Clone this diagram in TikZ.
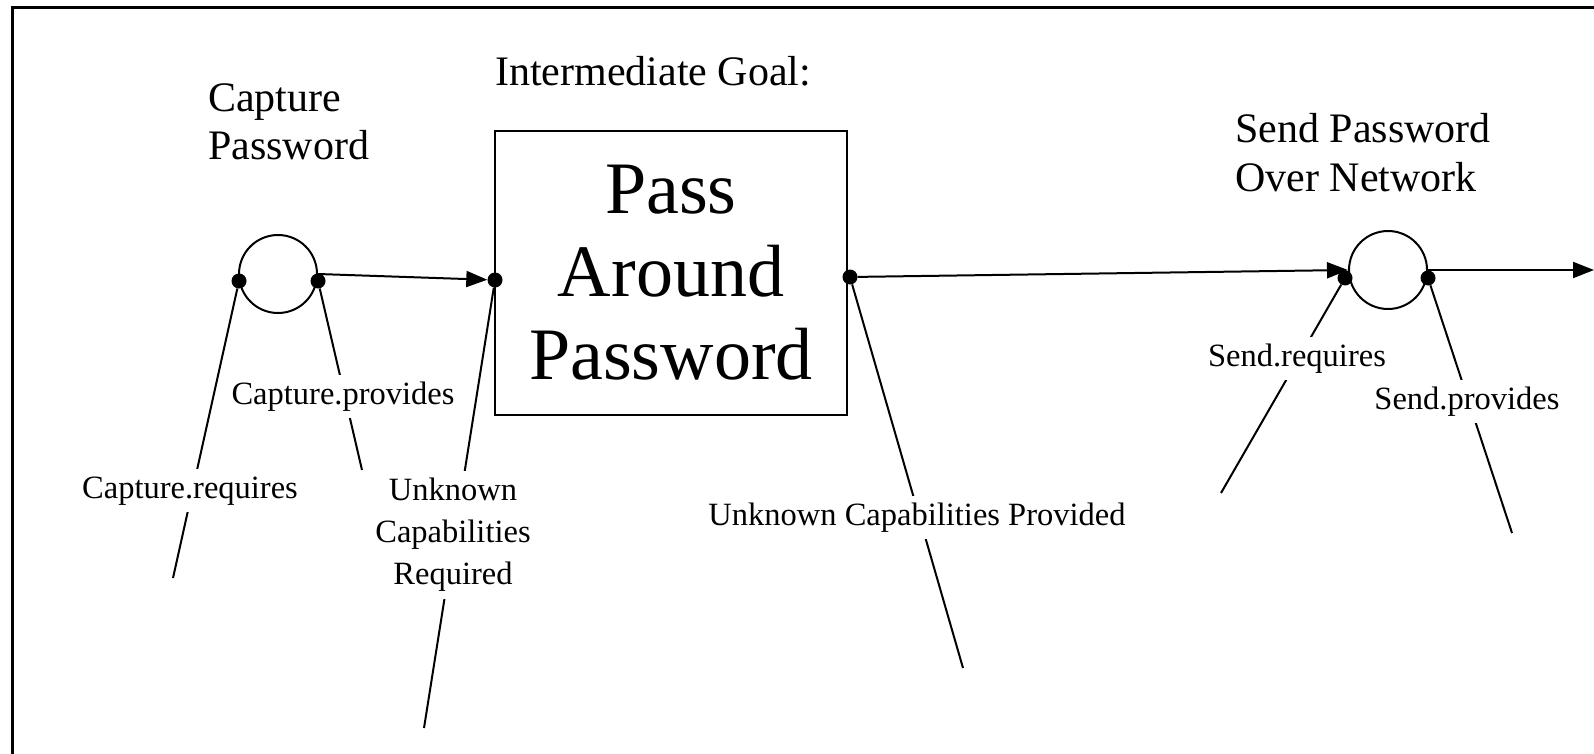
\documentclass[tikz,border=0pt]{standalone}
\usepackage{fontspec}
\setmainfont{Liberation Serif}
\usetikzlibrary{arrows.meta}
\begin{document}
\begin{tikzpicture}[x=1pt,y=-1pt,
  conn/.style={line width=2pt},
  arr/.style={line width=2pt,-{Triangle[length=21pt,width=16pt]}},
  dotmark/.style={circle,fill,inner sep=0pt,minimum size=15pt},
  ring/.style={circle,draw,line width=2pt,minimum size=78pt,inner sep=0pt},
  lab/.style={fill=white,inner xsep=3pt,inner ysep=5.5pt,text height=24pt,text depth=8pt,font=\fontsize{32.5}{42}\selectfont},
  mlab/.style={fill=white,inner sep=7pt,align=center,font=\fontsize{32.5}{42}\selectfont},
  titletext/.style={font=\fontsize{42}{48}\selectfont,align=left,inner sep=0pt,anchor=base west}
]
\useasboundingbox (0,0) rectangle (1594,754);
\fill[white] (0,0) rectangle (1594,754);
% frame
\draw[line width=3pt] (12,754) -- (12,8) -- (1594,8);

% headings (base anchor = baseline of the last line)
\node[titletext] (capT) at (208,160) {Capture\\Password};
\node[titletext] (igT) at (495,86) {Intermediate Goal:};
\node[titletext] (sendT) at (1235,191) {Send Password\\Over Network};

% main shapes
\node[ring] (c1) at (278,274) {};
\node[ring] (c2) at (1388,270) {};
\node[draw,line width=2pt,minimum width=352pt,minimum height=284pt,inner sep=0pt,align=center,font=\fontsize{74}{83}\selectfont] (goal) at (671,273) {Pass\\Around\\Password};

% ports
\node[dotmark] (d1l) at (239,281) {};
\node[dotmark] (d1r) at (318,281) {};
\node[dotmark] (dbl) at (495,280) {};
\node[dotmark] (dbr) at (850,277) {};
\node[dotmark] (d2l) at (1345,278) {};
\node[dotmark] (d2r) at (1428,278) {};

% free ends of the lead lines
\coordinate (e1l) at (173,578);
\coordinate (e1r) at (362,470);
\coordinate (ebl) at (424,728);
\coordinate (ebr) at (963,668);
\coordinate (e2l) at (1221,493);
\coordinate (e2r) at (1512,533);
\coordinate (outR) at (1594,270);

\draw[conn] (d1l) -- (e1l);
\draw[conn] (d1r) -- (e1r);
\draw[conn] (dbl) -- (ebl);
\draw[conn] (dbr) -- (ebr);
\draw[conn] (d2l) -- (e2l);
\draw[conn] (d2r) -- (e2r);

% labels on the lead lines
\node[lab] (l1) at (190,490) {Capture.requires};
\node[lab] (l2) at (343,396) {Capture.provides};
\node[mlab] (l3) at (453,535) {Unknown\\Capabilities\\Required};
\node[lab] (l4) at (917,517) {Unknown Capabilities Provided};
\node[lab] (l5) at (1297,358) {Send.requires};
\node[lab] (l6) at (1467,401) {Send.provides};

% flow arrows
\draw[arr] (c1.east) -- (dbl);
\draw[arr] (dbr) -- (c2.west);
\draw[arr] (c2.east) -- (outR);
\end{tikzpicture}
\end{document}
